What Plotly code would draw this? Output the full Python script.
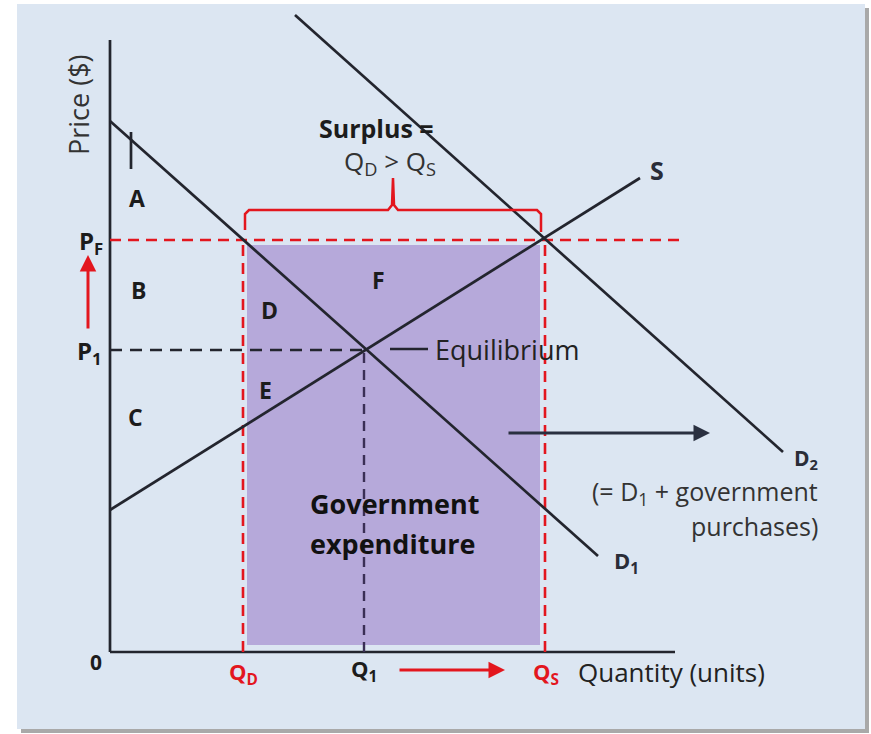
import plotly.graph_objects as go

# ---- data (quantity units, price $) ----
D1_Q = [0.0, 48.8]
D1_P = [53.1, 9.6]
S_Q = [0.0, 53.0]
S_P = [14.2, 47.4]
D2_Q = [18.5, 67.3]
D2_P = [63.7, 20.0]
Q_D, Q_1, Q_S = 13.3, 25.4, 43.5
P_F, P_1 = 41.2, 30.2
Q_AXIS_MAX = 56.5
P_AXIS_MAX = 61.2
PF_LINE_END = 57.0
GOV_Q = [13.7, 43.0]
GOV_P = [0.7, 40.7]

RED = "#e3161e"
DARK = "#23252e"
TXT = "#1c1c1c"
FONT = "Open Sans"

fig = go.Figure()

# government expenditure rectangle
fig.add_trace(go.Scatter(
    x=[GOV_Q[0], GOV_Q[1], GOV_Q[1], GOV_Q[0], GOV_Q[0]],
    y=[GOV_P[0], GOV_P[0], GOV_P[1], GOV_P[1], GOV_P[0]],
    fill="toself", fillcolor="#b6a9da", line=dict(width=0), mode="lines"))

def line(xs, ys, color=DARK, width=2.7, dash=None):
    fig.add_trace(go.Scatter(x=xs, y=ys, mode="lines",
                             line=dict(color=color, width=width, dash=dash)))

# axes
line([0, 0], [0, P_AXIS_MAX], width=2.7)
line([0, Q_AXIS_MAX], [0, 0], width=2.7)

# dashed guides
line([0, Q_1], [P_1, P_1], color=DARK, width=2.4, dash="12px,8px")
line([Q_1, Q_1], [0, P_1], color="#3a2f55", width=2.4, dash="10px,7px")
line([0, PF_LINE_END], [P_F, P_F], color=RED, width=2.6, dash="11px,7px")
line([Q_D, Q_D], [0, P_F], color=RED, width=2.6, dash="11px,7px")
line([Q_S, Q_S], [0, P_F], color=RED, width=2.6, dash="11px,7px")

# curves
line(D1_Q, D1_P)
line(S_Q, S_P)
line(D2_Q, D2_P)

# small tick near A
line([2.1, 2.1], [48.3, 52.0], width=2.7)
# equilibrium leader
line([28.0, 31.8], [30.3, 30.3], width=2.7)

# brace
BR_Y = 44.2
brace_x = [Q_D + 0.2, Q_D + 0.2, Q_D + 0.6, 27.8, 28.2, 28.3, 28.4, 28.8, Q_S - 0.8, Q_S - 0.4, Q_S - 0.4]
brace_y = [42.2, 43.8, BR_Y, BR_Y, BR_Y + 0.5, 47.4, BR_Y + 0.5, BR_Y, BR_Y, 43.8, 42.0]
line(brace_x, brace_y, color=RED, width=2.5)

ann = []
def txt(x, y, t, size=20, bold=False, color=TXT, xanchor="center", textangle=0):
    ann.append(dict(x=x, y=y, xref="x", yref="y", text=(f"<b>{t}</b>" if bold else t),
                    showarrow=False, xanchor=xanchor, yanchor="middle", textangle=textangle,
                    font=dict(family=FONT, size=size, color=color)))

txt(-3.2, 54.7, "Price ($)", size=27, color="#333333", textangle=-90)
txt(26.6, 52.4, "Surplus =", size=25, bold=True)
txt(28.0, 49.0, "Q<sub>D</sub> > Q<sub>S</sub>", size=26, color="#333333")
txt(54.7, 48.2, "S", size=25, bold=True, color="#2a2d38")
txt(2.7, 45.4, "A", size=23, bold=True)
txt(2.8, 36.2, "B", size=23, bold=True)
txt(2.5, 23.5, "C", size=23, bold=True)
txt(15.9, 34.2, "D", size=23, bold=True)
txt(15.5, 26.2, "E", size=23, bold=True)
txt(26.8, 37.2, "F", size=23, bold=True)
txt(-1.9, 41.0, "P<sub>F</sub>", size=24, bold=True)
txt(-2.1, 30.0, "P<sub>1</sub>", size=24, bold=True)
txt(-1.4, -1.0, "0", size=21, bold=True)
txt(13.3, -2.1, "Q<sub>D</sub>", size=22, bold=True, color=RED)
txt(25.4, -1.8, "Q<sub>1</sub>", size=22, bold=True)
txt(43.6, -2.1, "Q<sub>S</sub>", size=22, bold=True, color=RED)
txt(46.6, -2.0, "Quantity (units)", size=26, color="#222222", xanchor="left")
txt(32.3, 30.3, "Equilibrium", size=27, color="#222222", xanchor="left")
txt(69.6, 19.3, "D<sub>2</sub>", size=21, bold=True, color="#2a2d38")
txt(71.0, 16.0, "(= D<sub>1</sub> + government", size=25, color="#333333", xanchor="right")
txt(71.0, 12.6, "purchases)", size=25, color="#333333", xanchor="right")
txt(51.6, 9.0, "D<sub>1</sub>", size=22, bold=True, color="#2a2d38")
txt(28.5, 14.9, "Government", size=27, bold=True, color="#111111")
txt(28.2, 10.9, "expenditure", size=27, bold=True, color="#111111")

def arrow(x0, y0, x1, y1, color, width=3):
    ann.append(dict(x=x1, y=y1, ax=x0, ay=y0, xref="x", yref="y", axref="x", ayref="y",
                    text="", showarrow=True, arrowhead=2, arrowsize=1.1, arrowwidth=width,
                    arrowcolor=color, standoff=0, startstandoff=0))

arrow(-2.2, 32.2, -2.2, 39.7, RED)
arrow(28.8, -1.8, 39.5, -1.8, RED)
arrow(39.7, 21.9, 60.0, 21.9, "#2a3040")

W, H = 871, 734
shapes = [
    dict(type="rect", xref="paper", yref="paper", x0=21 / W, x1=869 / W, y0=1 - 733 / H, y1=1 - 8 / H,
         fillcolor="#a9a9a9", line=dict(width=0), layer="below"),
    dict(type="rect", xref="paper", yref="paper", x0=17 / W, x1=865 / W, y0=1 - 729 / H, y1=1 - 4 / H,
         fillcolor="#dce6f2", line=dict(width=0), layer="below"),
]

fig.update_layout(
    width=W, height=H, margin=dict(l=0, r=0, t=0, b=0),
    paper_bgcolor="white", plot_bgcolor="rgba(0,0,0,0)",
    showlegend=False, hovermode=False,
    xaxis=dict(range=[-11, 76.1], visible=False, fixedrange=True),
    yaxis=dict(range=[-8.2, 65.2], visible=False, fixedrange=True),
    annotations=ann, shapes=shapes,
)
fig.write_html("out.html", config={"displayModeBar": False},
               post_script="document.body.style.margin='0';document.body.style.overflow='hidden';")
